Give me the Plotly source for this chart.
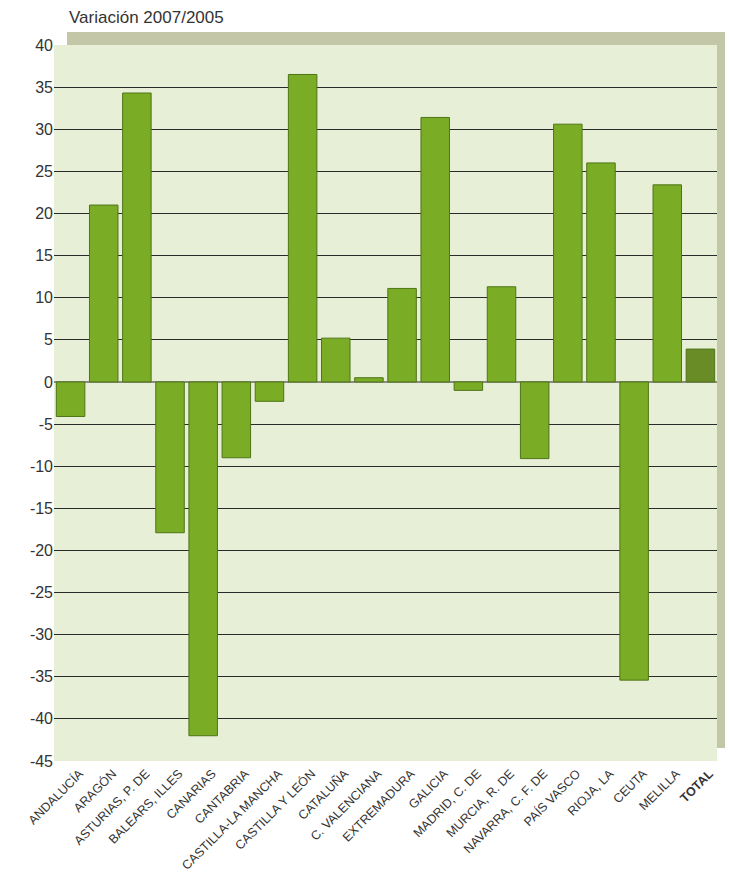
import plotly.graph_objects as go

categories = ["ANDALUCÍA", "ARAGÓN", "ASTURIAS, P. DE", "BALEARS, ILLES", "CANARIAS",
              "CANTABRIA", "CASTILLA-LA MANCHA", "CASTILLA Y LEÓN", "CATALUÑA",
              "C. VALENCIANA", "EXTREMADURA", "GALICIA", "MADRID, C. DE",
              "MURCIA, R. DE", "NAVARRA, C. F. DE", "PAÍS VASCO", "RIOJA, LA",
              "CEUTA", "MELILLA", "TOTAL"]
values = [-4.1, 21.0, 34.3, -17.9, -42.0, -9.0, -2.3, 36.5, 5.2, 0.5, 11.1, 31.4,
          -1.0, 11.3, -9.1, 30.6, 26.0, -35.4, 23.4, 3.9]
tick_labels = [c if c != "TOTAL" else "<b>TOTAL</b>" for c in categories]
y_ticks = list(range(-45, 41, 5))

bar_colors = ["#7aac25"] * (len(categories) - 1) + ["#6a8c27"]

fig = go.Figure()
fig.add_trace(go.Bar(
    x=categories, y=values,
    marker=dict(color=bar_colors, line=dict(color="#4f7418", width=1)),
    width=0.86,
))

# page body has an 8px margin, so the figure starts at (8, 8)
W, H = 725, 870
ml, mr, mt, mb = 46, 16, 37, 117
pw, ph = W - ml - mr, H - mt - mb

fig.update_layout(
    width=W, height=H,
    margin=dict(l=ml, r=mr, t=mt, b=mb, pad=0),
    paper_bgcolor="white",
    plot_bgcolor="rgba(0,0,0,0)",
    showlegend=False,
    font=dict(family="Liberation Sans, Arial, sans-serif", color="#333333"),
    shapes=[
        dict(type="rect", xref="paper", yref="paper", layer="below",
             x0=13 / pw, x1=1 + 13 / pw, y0=13 / ph, y1=1 + 13 / ph,
             fillcolor="#c3c7a8", line=dict(width=0)),
        dict(type="rect", xref="paper", yref="paper", layer="below",
             x0=0, x1=1, y0=0, y1=1,
             fillcolor="#e7f0d7", line=dict(width=0)),
    ],
    annotations=[
        dict(text="Variación 2007/2005", xref="paper", yref="paper",
             x=(67 - 54) / pw, y=1 + 28 / ph, xanchor="left", yanchor="middle",
             showarrow=False, font=dict(size=17, color="#333333")),
    ],
    xaxis=dict(
        tickvals=categories, ticktext=tick_labels, tickangle=-45,
        tickfont=dict(size=12.5, color="#333333"),
        ticklabelshift=9, ticklabelstandoff=2,
        showgrid=False, showline=False, ticks="", automargin=False,
        range=[-0.5, len(categories) - 0.5],
    ),
    yaxis=dict(
        range=[-45, 40], tickvals=y_ticks, ticktext=[str(v) for v in y_ticks],
        tickfont=dict(size=16, color="#333333"),
        showgrid=True, gridcolor="#2a2a2a", gridwidth=1,
        zeroline=True, zerolinecolor="#8a8a80", zerolinewidth=1.5,
        showline=False, ticks="", automargin=False,
    ),
)

fig.write_html("out.html")
